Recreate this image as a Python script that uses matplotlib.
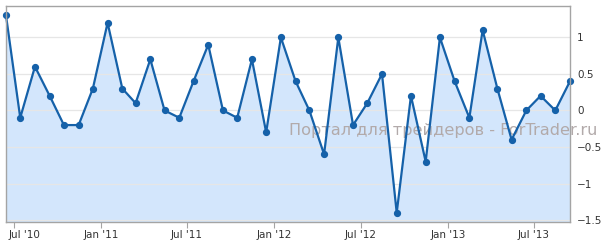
import numpy as np
import pandas as pd
import matplotlib
matplotlib.use("Agg")
import matplotlib.pyplot as plt
import matplotlib.dates as mdates
import matplotlib.transforms as mtransforms

# monthly values, Jun 2010 .. Sep 2013 (plotted mid-month)
dates = pd.date_range("2010-06-01", periods=40, freq="MS") + pd.Timedelta(days=14)
values = [1.3, -0.1, 0.6, 0.2, -0.2, -0.2, 0.3, 1.2, 0.3, 0.1,
          0.7, 0.0, -0.1, 0.4, 0.9, 0.0, -0.1, 0.7, -0.3, 1.0,
          0.4, 0.0, -0.6, 1.0, -0.2, 0.1, 0.5, -1.4, 0.2, -0.7,
          1.0, 0.4, -0.1, 1.1, 0.3, -0.4, 0.0, 0.2, 0.0, 0.4]
yticks = [-1.5, -1, -0.5, 0, 0.5, 1]
ytick_labels = ["−1.5", "−1", "−0.5", "0", "0.5", "1"]
xticks = pd.to_datetime(["2010-07-01", "2011-01-01", "2011-07-01", "2012-01-01",
                         "2012-07-01", "2013-01-01", "2013-07-01"])
watermark = "Портал для трейдеров - ForTrader.ru"

line_col = "#1561a9"
fill_col = "#d3e6fc"
border = "#a4a4a4"

fig = plt.figure(figsize=(6.05, 2.44), dpi=100)
ax = fig.add_axes([6 / 605, 1 - 221.5 / 244, 564 / 605, 215.5 / 244])

ax.fill_between(dates, values, -1.52, color=fill_col, lw=0, zorder=1)
ax.plot(dates, values, color=line_col, lw=1.6, marker="o", markersize=4.2,
        clip_on=False, zorder=4)

ax.set_xlim(dates[0], dates[-1])
ax.set_ylim(-1.52, 1.43)

ax.set_yticks(yticks)
ax.set_yticklabels(ytick_labels)
ax.yaxis.tick_right()
ax.tick_params(axis="y", length=0, pad=5, labelsize=7.5, labelcolor="#333333")
ax.set_axisbelow(False)
ax.grid(axis="y", color="#e6e6e6", lw=0.9, zorder=2)

ax.set_xticks(xticks)
ax.xaxis.set_major_formatter(mdates.DateFormatter("%b '%y"))
ax.tick_params(axis="x", length=4, width=0.8, color=border, pad=2,
               labelsize=7.5, labelcolor="#333333")

# first date label is pushed right so it stays inside the picture
fig.canvas.draw()
first = ax.get_xticklabels()[0]
first.set_horizontalalignment("left")
first.set_transform(first.get_transform() +
                    mtransforms.ScaledTranslation(-5 / 100, 0, fig.dpi_scale_trans))

for s in ax.spines.values():
    s.set_color(border)
    s.set_linewidth(1)
    s.set_zorder(5)

ax.text(289 / 605, 1 - 131 / 244, watermark, fontsize=11.6, color="#b2aaaa",
        ha="left", va="center", transform=fig.transFigure, clip_on=False,
        zorder=3)

fig.savefig("out.png", dpi=100)
